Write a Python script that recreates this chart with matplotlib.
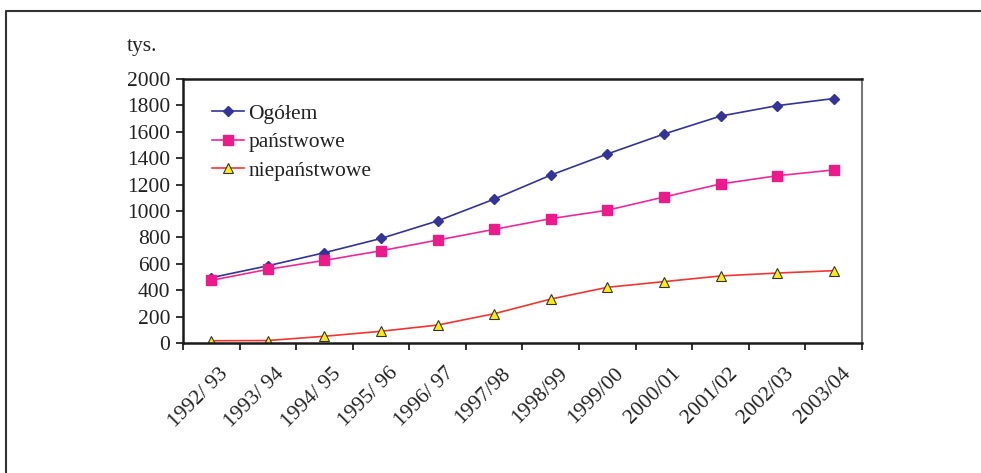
import numpy as np
import matplotlib.pyplot as plt
from matplotlib.lines import Line2D
from matplotlib.transforms import ScaledTranslation

plt.rcParams['font.family'] = ['Liberation Serif', 'DejaVu Serif']

# lata akademickie
lata = ['1992/ 93', '1993/ 94', '1994/ 95', '1995/ 96', '1996/ 97', '1997/98',
        '1998/99', '1999/00', '2000/01', '2001/02', '2002/03', '2003/04']

# liczba studentow w tys.
ogolem = [495, 585, 684, 792, 925, 1090, 1272, 1432, 1583, 1719, 1798, 1852]
panstwowe = [475, 558, 626, 699, 780, 861, 942, 1006, 1106, 1205, 1267, 1311]
niepanstwowe = [17, 19, 51, 89, 136, 222, 333, 422, 465, 508, 530, 548]

fig = plt.figure(figsize=(9.81, 4.73), dpi=100)
ax = fig.add_axes([0.1865, 0.2748, 0.6922, 0.5582])

# ramka wokol wykresu (lewa i gorna krawedz)
ramka_x, ramka_y = 6/981, 1 - 11/473
fig.add_artist(Line2D([ramka_x, ramka_x, 1.0], [0.0, ramka_y, ramka_y],
                      transform=fig.transFigure, color='#333333', lw=1.5))

x = np.arange(len(lata))
ax.plot(x, ogolem, color='#333399', lw=1.2, marker='D', ms=5,
        mfc='#333399', mec='#333399', label='Ogółem')
ax.plot(x, panstwowe, color='#ee2a9a', lw=1.2, marker='s', ms=7,
        mfc='#ee1a8c', mec='#ee1a8c', label='państwowe')
ax.plot(x, niepanstwowe, color='#f03535', lw=1.2, marker='^', ms=7,
        mfc='#ffee00', mec='#333333', mew=0.8, label='niepaństwowe')

ax.set_xlim(-0.5, len(lata) - 0.5)
ax.set_ylim(0, 2000)
ax.set_yticks(np.arange(0, 2001, 200))
ax.tick_params(axis='y', direction='out', length=5, width=1.3, labelsize=15.5,
               colors='#222222', pad=4)

ax.set_xticks(x)
ax.set_xticklabels(lata, rotation=45, ha='right', va='center',
                   rotation_mode='anchor', fontsize=15.5, color='#222222')
ax.set_xticks(np.arange(-0.5, len(lata)), minor=True)
ax.tick_params(axis='x', which='major', length=0, pad=20)
ax.tick_params(axis='x', which='minor', direction='out', length=5, width=1.3,
               colors='#222222')
offset = ScaledTranslation(14/100, 0, fig.dpi_scale_trans)
for lab in ax.get_xticklabels():
    lab.set_transform(lab.get_transform() + offset)

for s in ['left', 'bottom', 'top']:
    ax.spines[s].set_color('#1a1a1a')
    ax.spines[s].set_linewidth(1.8)
ax.spines['right'].set_color('#777777')
ax.spines['right'].set_linewidth(1.5)

fig.text(127/981, 1 - 46/473, 'tys.', fontsize=15.5, color='#222222',
         va='center', ha='left')

leg = ax.legend(loc='upper left', bbox_to_anchor=(0.03, 0.94), frameon=False,
                fontsize=15.5, handlelength=1.5, handletextpad=0.2,
                labelspacing=0.4, borderaxespad=0)
for t in leg.get_texts():
    t.set_color('#222222')

fig.savefig('out.png', dpi=100)
